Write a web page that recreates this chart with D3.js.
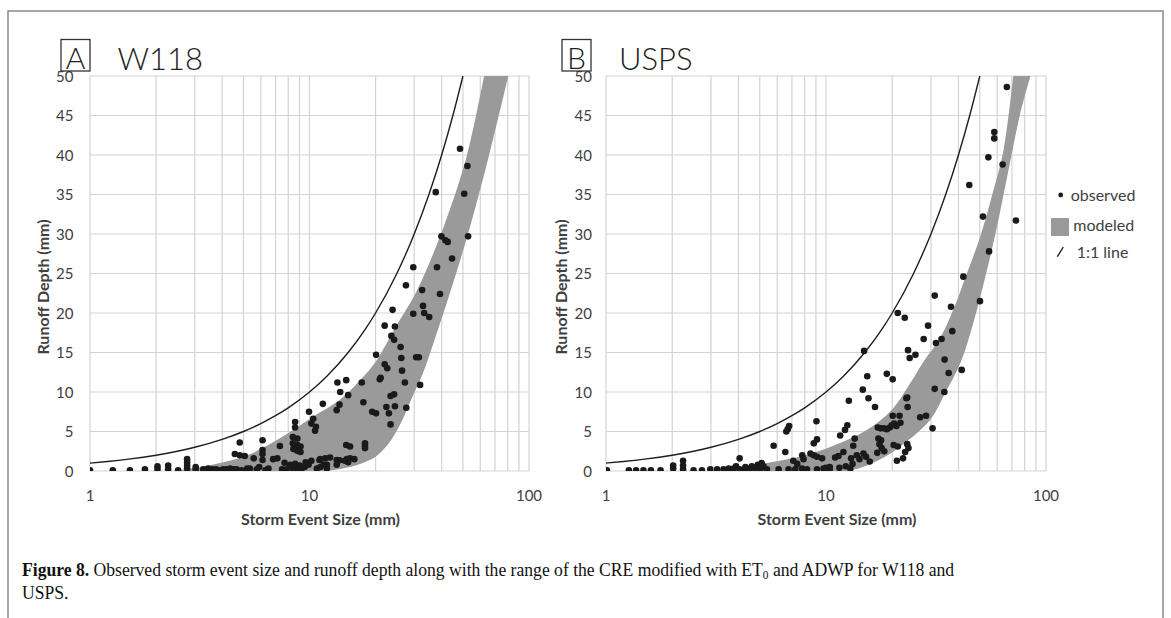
<!DOCTYPE html>
<html><head><meta charset="utf-8">
<script src="https://cdn.jsdelivr.net/npm/d3@7"></script>
<style>
html,body{margin:0;padding:0;background:#fff;}
svg{display:block;}
</style></head>
<body>
<svg id="chart" width="1171" height="618"></svg>
<script>
// ---------------- DATA ----------------
const xTickLabels = [1, 10, 100];
const yTicks = [0, 5, 10, 15, 20, 25, 30, 35, 40, 45, 50];
const panelTitles = ["W118", "USPS"];
const panelLetters = ["A", "B"];
const legendLabels = ["observed", "modeled", "1:1 line"];
const xAxisTitle = "Storm Event Size (mm)";
const yAxisTitle = "Runoff Depth (mm)";

// 1:1 line storm sizes (runoff = storm)
const oneToOneStorm = [1, 1.2, 1.5, 2, 2.5, 3, 4, 5, 6, 7, 8, 10, 12, 15, 18, 20, 25, 30, 35, 40, 45, 50];

// modeled band edges [storm, runoff]
const w118BandUpper = [[2.4,0],[3.6,0.8],[5.2,2],[7.3,4.1],[10.4,6.9],[13.7,9],[17,11.5],[20.2,14],[25,18.5],[30.8,22.8],[40.7,30.8],[52,39.8],[62.4,50]];
const w118BandLower = [[2.4,0],[11,0],[14,0.3],[17,0.9],[20,1.8],[23,3.5],[26,6],[29,9],[33,12.5],[37,16.5],[43.6,22.5],[54,31],[66.5,40.5],[80.5,50]];
const uspsBandUpper = [[3.8,0],[5.4,1.0],[7.6,1.8],[10.8,3.2],[15.3,5.2],[20,7.8],[24,11],[28,14],[33,16.8],[38,20.5],[43,24.5],[50,29.5],[57,35],[64,40.5],[71,50]];
const uspsBandLower = [[3.8,0],[12.5,0],[18.3,1.7],[23.4,3.8],[29.8,6.5],[35,10],[41,13.8],[47,19],[54,25.5],[61,32],[68,38.5],[76,45],[85,50]];

// observed events [storm, runoff]
const w118Observed = [
[1.0,0.1],[1.27,0.1],[1.52,0.1],[1.78,0.2],[2.03,0.2],[2.03,0.6],[2.27,0.2],[2.27,0.7],[2.52,0.1],[2.77,0.3],[2.77,0.7],[2.77,1.1],[2.77,1.5],[3.03,0.2],[3.03,0.5],[3.28,0.2],[3.45,0.3],[3.6,0.2],[3.75,0.2],[3.9,0.1],[4.05,0.2],[4.2,0.2],[4.35,0.3],[4.5,0.2],[4.65,0.2],[4.9,0.1],[5.2,0.3],[5.35,0.3],[5.75,0.2],[5.9,0.5],[6.3,0.1],[6.5,0.3],[7.5,0.2],[7.85,0.2],[8.3,0.4],[8.7,0.3],[9.2,0.3],[9.5,0.5],[10.8,0.3],[11.2,0.5],[11.6,0.8],[12.0,0.3],
[4.57,2.15],[4.81,2.0],[5.07,1.9],[4.81,3.6],[5.57,1.6],[6.11,3.9],[6.11,2.66],[6.11,2.15],[6.11,1.4],[6.83,1.5],[7.14,1.6],[7.33,3.16],[7.7,1.05],[8.15,0.8],
[8.6,6.2],[8.6,5.5],[8.4,4.3],[8.8,4.1],[8.4,3.5],[8.8,3.3],[9.1,3.1],[8.45,2.8],[8.8,2.55],[9.1,2.4],[8.6,0.9],[9.0,0.7],[9.6,1.1],[9.9,0.8],
[9.95,7.5],[10.2,6.0],[10.4,6.6],[10.6,5.1],[10.7,5.6],[11.1,1.4],[11.8,1.6],[12.4,1.7],[11.5,8.5],[13.3,7.7],[13.7,8.4],[13.3,1.4],[13.7,1.35],[13.8,10.0],[13.4,11.2],[14.7,11.5],[15.0,9.6],[14.7,3.3],[15.3,3.1],[14.8,1.5],[15.3,1.6],[17.3,11.2],[17.6,8.7],[17.9,3.5],[17.9,3.2],[17.9,2.9],[19.3,7.5],[20.1,7.3],
[10.2,1.3],[11.2,1.5],[12.0,0.8],[13.3,0.8],[14.5,1.3],[15.0,1.1],[16.0,1.5],
[48.5,40.8],[52.4,38.6],[37.6,35.3],[50.7,35.1],[39.9,29.7],[41.6,29.2],[42.6,29.0],[52.8,29.7],[44.6,26.9],[38.1,25.8],[29.7,25.8],[27.5,23.5],[32.6,22.9],[39.3,22.4],[23.9,20.4],[32.9,20.9],[29.7,19.9],[33.3,20.0],[35.1,19.5],[22.0,18.4],[24.5,18.3],[23.6,17.1],[24.3,16.6],[26.0,15.7],[20.1,14.7],[26.2,14.3],[30.6,14.4],[31.5,14.4],[22.0,13.5],[22.6,13.0],[26.4,12.7],[20.9,11.6],[21.1,11.8],[27.2,11.2],[31.9,10.9],[23.4,9.5],[24.3,9.7],[22.4,8.1],[24.5,8.2],[27.6,8.0],[23.0,7.3],[23.4,5.9]
];
const uspsObserved = [
[1.01,0.1],[1.27,0.1],[1.37,0.1],[1.48,0.1],[1.6,0.1],[1.77,0.1],[2.02,0.3],[2.02,0.7],[2.24,0.2],[2.24,0.7],[2.24,1.3],[2.5,0.1],[2.73,0.1],[2.98,0.2],[3.2,0.2],[3.42,0.2],[3.61,0.3],[3.8,0.3],[4.05,0.2],[4.29,0.2],[4.52,0.3],[4.76,0.4],[5.03,0.2],[5.39,0.2],[6.09,0.2],[6.76,0.2],[7.25,0.2],[7.78,0.3],[8.2,0.2],[9.1,0.2],[9.75,0.3],[10.4,0.2],
[4.05,1.6],[3.9,0.6],[4.3,0.5],[4.6,0.6],[4.9,0.8],[5.1,1.0],[5.2,0.6],
[5.78,3.2],[6.53,2.4],[6.6,5.0],[6.7,5.3],[6.8,5.7],[7.1,1.3],[7.4,0.9],[7.8,2.0],[7.9,1.5],[8.5,2.2],[8.8,2.0],[9.1,1.8],[8.8,3.5],[9.1,4.0],[9.05,6.3],[9.6,1.6],[10.0,0.4],[10.4,0.5],[11.0,1.7],[11.4,1.9],[11.6,4.5],[12.2,5.2],[12.5,5.8],[12.7,8.9],[12.0,2.4],[13.3,3.2],[13.5,4.1],[13.0,1.6],[13.2,0.9],[13.8,2.0],[11.5,0.4],[12.3,0.6],[12.9,0.3],[14.2,1.5],[14.8,2.2],[15.2,1.8],[15.8,1.2],[14.7,10.3],[15.6,9.2],[16.7,8.1],[17.2,5.5],[17.7,5.4],[18.3,5.4],[18.9,5.3],[19.5,5.5],[17.3,4.1],[17.8,3.9],[17.5,3.4],[17.9,2.9],[18.4,2.5],[17.1,2.3],[19.9,5.8],[20.4,6.0],[20.9,5.7],[21.6,7.0],[21.8,6.1],[23.4,9.3],[23.5,8.1],[20.3,3.3],[21.2,3.1],[22.4,1.6],[22.9,2.4],[23.4,3.4],[23.7,2.9],[21.0,1.3],[26.8,6.8],[28.5,7.0],[30.5,5.4],[14.9,15.2],[15.4,12.0],[18.9,12.3],[20.1,11.6],[20.1,7.0],
[66.4,48.6],[58.2,42.9],[58.2,42.1],[54.7,39.7],[63.5,38.8],[44.8,36.2],[51.7,32.2],[73,31.7],[55.1,27.8],[42.1,24.6],[50.1,21.5],[31.2,22.2],[37.0,20.8],[21.2,20.0],[22.8,19.4],[29.1,18.4],[37.5,17.7],[27.8,16.7],[31.6,16.2],[33.5,16.7],[23.6,15.3],[24.0,14.3],[25.5,14.7],[34.6,14.1],[41.4,12.8],[36.1,12.4],[31.2,10.4],[34.5,10.0],[23.2,9.2]
];

const captionBold = "Figure 8.";
const captionLine1a = " Observed storm event size and runoff depth along with the range of the CRE modified with ET";
const captionSub = "0";
const captionLine1b = " and ADWP for W118 and";
const captionLine2 = "USPS.";

// ---------------- DRAW ----------------
const svg = d3.select("#chart");
const textColor = "#404040";
const sans = "Lato, 'Open Sans', sans-serif";
const serif = "'Liberation Serif', 'Times New Roman', serif";

// outer frame
svg.append("path").attr("d", "M8,618 V11 H1163 V618")
  .attr("fill", "none").attr("stroke", "#8a8a8a").attr("stroke-width", 1.5);

const panels = [
  {id:"A", x0:90, x1:529, top:76, bottom:471, obs:w118Observed, up:w118BandUpper, lo:w118BandLower,
   tickEnd:73.5, yTitleX:43, boxX:61, titleX:117.5},
  {id:"B", x0:606, x1:1046, top:76, bottom:471, obs:uspsObserved, up:uspsBandUpper, lo:uspsBandLower,
   tickEnd:592, yTitleX:561, boxX:562, titleX:619}
];

panels.forEach((p, i) => {
  const x = d3.scaleLog().domain([1, 100]).range([p.x0, p.x1]);
  const y = d3.scaleLinear().domain([0, 50]).range([p.bottom, p.top]);
  const g = svg.append("g").style("font-family", sans);

  const clipId = "clip" + p.id;
  svg.append("defs").append("clipPath").attr("id", clipId)
    .append("rect").attr("x", p.x0).attr("y", p.top).attr("width", p.x1 - p.x0).attr("height", p.bottom - p.top);

  // gridlines
  const grid = g.append("g").attr("stroke", "#d3d3d3").attr("stroke-width", 1.2);
  grid.selectAll("line.v").data(x.ticks()).join("line")
    .attr("x1", d => x(d)).attr("x2", d => x(d)).attr("y1", p.top).attr("y2", p.bottom);
  grid.selectAll("line.h").data(yTicks).join("line")
    .attr("x1", p.x0).attr("x2", p.x1).attr("y1", d => y(d)).attr("y2", d => y(d));

  const plot = g.append("g").attr("clip-path", `url(#${clipId})`);

  // modeled band
  const edge = d3.line().x(d => x(d[0])).y(d => y(d[1])).curve(d3.curveCatmullRom.alpha(0.5));
  const upPath = edge(p.up);
  const loPath = edge(p.lo.slice().reverse());
  plot.append("path").attr("d", upPath + "L" + loPath.slice(1) + "Z")
    .attr("fill", "#9a9a9a").attr("stroke", "none");

  // 1:1 line
  plot.append("path").datum(oneToOneStorm)
    .attr("d", d3.line().x(d => x(d)).y(d => y(d)).curve(d3.curveMonotoneX))
    .attr("fill", "none").attr("stroke", "#1e1e1e").attr("stroke-width", 1.4);

  // observed points
  plot.selectAll("circle").data(p.obs).join("circle")
    .attr("cx", d => x(d[0])).attr("cy", d => y(d[1])).attr("r", 3.3)
    .attr("fill", "#1a1a1a");

  // y tick labels
  g.selectAll("text.yt").data(yTicks).join("text")
    .attr("x", p.tickEnd).attr("y", d => y(d) + 5.5)
    .attr("text-anchor", "end").attr("font-size", 15).attr("fill", textColor)
    .text(d => d);

  // x tick labels
  g.selectAll("text.xt").data(xTickLabels).join("text")
    .attr("x", d => x(d)).attr("y", 500.5)
    .attr("text-anchor", "middle").attr("font-size", 15).attr("fill", textColor)
    .text(d => d);

  // axis titles
  g.append("text").attr("x", (p.x0 + p.x1) / 2 + 11).attr("y", 524.5)
    .attr("text-anchor", "middle").attr("font-size", 16).attr("font-weight", 700)
    .attr("fill", textColor).text(xAxisTitle);
  g.append("text").attr("transform", `translate(${p.yTitleX + 5.5},287) rotate(-90)`)
    .attr("text-anchor", "middle").attr("font-size", 16).attr("font-weight", 700)
    .attr("fill", textColor).text(yAxisTitle);

  // panel title
  g.append("rect").attr("x", p.boxX).attr("y", 39.5).attr("width", 29).attr("height", 31.5)
    .attr("fill", "none").attr("stroke", "#333").attr("stroke-width", 1.3);
  g.append("text").attr("x", p.boxX + 14.5).attr("y", 68.5).attr("text-anchor", "middle")
    .attr("font-size", 30).attr("font-weight", 300).attr("fill", "#222").text(panelLetters[i]);
  g.append("text").attr("x", p.titleX).attr("y", 69.5)
    .attr("font-size", 31).attr("font-weight", 300).attr("fill", "#222").text(panelTitles[i]);
});

// legend
const lg = svg.append("g").attr("font-size", 16).attr("fill", textColor).style("font-family", sans);
lg.append("circle").attr("cx", 1060.7).attr("cy", 195).attr("r", 2.4).attr("fill", "#1a1a1a");
lg.append("text").attr("x", 1070.7).attr("y", 200.5).text(legendLabels[0]);
lg.append("rect").attr("x", 1051).attr("y", 218).attr("width", 18).attr("height", 18).attr("fill", "#9a9a9a");
lg.append("text").attr("x", 1073.3).attr("y", 230.5).text(legendLabels[1]);
lg.append("line").attr("x1", 1057.3).attr("y1", 256.7).attr("x2", 1063.3).attr("y2", 247)
  .attr("stroke", "#1e1e1e").attr("stroke-width", 1.4);
lg.append("text").attr("x", 1076.7).attr("y", 258).text(legendLabels[2]);

// caption
const cap = svg.append("g").attr("fill", "#111");
const t1 = cap.append("text").attr("font-size", 18.5).style("font-family", serif);
t1.append("tspan").attr("font-weight", 700).text(captionBold);
t1.append("tspan").text(captionLine1a);
t1.append("tspan").attr("font-size", 12).attr("dy", 3).text(captionSub);
t1.append("tspan").attr("dy", -3).text(captionLine1b);
const natural = t1.node().getComputedTextLength();
const k = 933 / natural;
t1.attr("transform", `translate(22,576) scale(${k},1)`);
cap.append("text").attr("font-size", 18.5).style("font-family", serif)
  .attr("transform", `translate(22,599) scale(${k},1)`).text(captionLine2);
</script>
</body></html>
